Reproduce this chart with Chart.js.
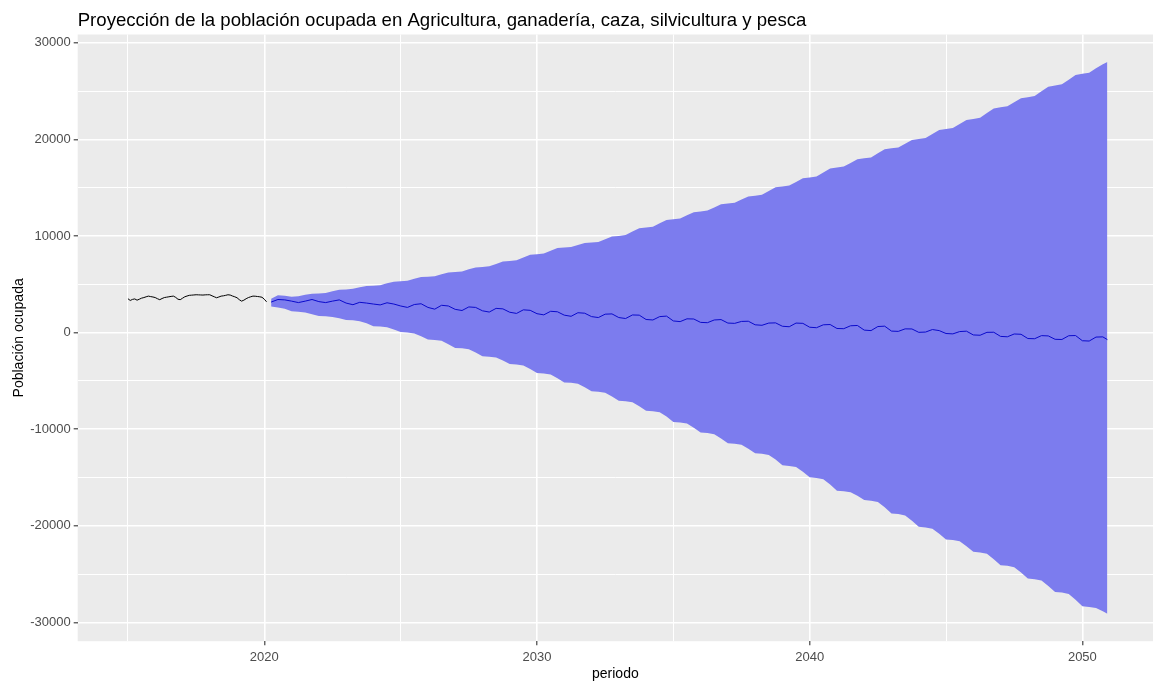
<!DOCTYPE html>
<html><head><meta charset="utf-8">
<script src="https://cdn.jsdelivr.net/npm/chart.js@4/dist/chart.umd.min.js"></script>
<style>html,body{margin:0;padding:0;background:#fff;overflow:hidden}#wrap{width:1153px;height:684px;position:relative}</style>
</head><body><div id="wrap"><canvas id="c" width="1153" height="684"></canvas></div>
<script>
const chartTitle = "Proyección de la población ocupada en Agricultura, ganadería, caza, silvicultura y pesca";
const xAxisTitle = "periodo";
const yAxisTitle = "Población ocupada";

const xMajorTicks = [2020, 2030, 2040, 2050];
const xMinorTicks = [2015, 2025, 2035, 2045];
const yMajorTicks = [-30000, -20000, -10000, 0, 10000, 20000, 30000];
const yMinorTicks = [-25000, -15000, -5000, 5000, 15000, 25000];

// Historical monthly series, Jan 2015 - Feb 2020
const histStart = 2015;
const histPerYear = 12;
const histValues = [
  3500,3320,3430,3480,3350,3450,3560,3620,3700,3770,3720,3680,
  3620,3500,3400,3520,3620,3660,3700,3740,3770,3640,3450,3400,
  3550,3700,3780,3850,3870,3890,3910,3900,3890,3880,3900,3910,
  3910,3800,3700,3600,3680,3770,3800,3850,3910,3880,3780,3700,
  3600,3400,3250,3350,3500,3620,3700,3770,3760,3730,3700,3650,
  3450,3180
];

// Forecast, quarterly from 2020.25, last point Dec 2050
const fcStart = 2020.25;
const fcStep = 0.25;
const fcLastPeriod = 2050.917;
const fcMean = [
  3150,3420,3380,
  3250,3100,3250,3420,
  3200,3100,3250,3380,
  3050,2880,3130,3050,
  2950,2860,3080,2950,
  2750,2600,2900,2980,
  2600,2420,2820,2750,
  2400,2280,2650,2600,
  2250,2120,2500,2450,
  2100,1980,2350,2300,
  1950,1830,2200,2150,
  1800,1680,2050,2000,
  1650,1550,1900,1930,
  1550,1450,1820,1800,
  1350,1300,1650,1700,
  1200,1130,1420,1400,
  1050,1020,1300,1340,
  980,950,1150,1170,
  800,750,980,1000,
  650,600,980,950,
  550,500,800,830,
  420,400,700,730,
  250,200,620,660,
  150,120,380,370,
  20,50,310,200,
  -100,-140,100,140,
  -250,-280,20,30,
  -400,-440,-150,-180,
  -620,-640,-320,-350,
  -700,-720,-330,-310,
  -850,-880,-470,-450,
  -730
];
const fcUpper = [
  3500,3850,3800,
  3700,3750,3900,4020,
  4050,4100,4280,4430,
  4460,4520,4700,4820,
  4850,4900,5100,5260,
  5300,5350,5560,5740,
  5780,5830,6030,6220,
  6260,6310,6540,6740,
  6780,6850,7100,7350,
  7400,7470,7760,8040,
  8100,8170,8460,8740,
  8790,8850,9060,9270,
  9310,9380,9660,9940,
  10000,10090,10450,10800,
  10870,10960,11300,11650,
  11730,11810,12130,12460,
  12530,12620,12950,13280,
  13360,13440,13760,14080,
  14150,14250,14640,15030,
  15120,15210,15590,15960,
  16050,16150,16570,16990,
  17090,17180,17560,17940,
  18030,18130,18550,18970,
  19070,19160,19550,19940,
  20030,20130,20550,20970,
  21070,21170,21590,22010,
  22110,22230,22720,23200,
  23320,23420,23840,24260,
  24360,24480,24970,25450,
  25570,25690,26170,26660,
  26780,26900,27350,27780,
  28000
];
const fcLower = [
  2700,2600,2450,
  2200,2150,2080,1900,
  1700,1680,1620,1480,
  1300,1270,1180,950,
  650,620,560,320,
  50,10,-90,-380,
  -730,-770,-860,-1200,
  -1590,-1630,-1720,-2070,
  -2460,-2500,-2580,-2900,
  -3250,-3300,-3400,-3770,
  -4190,-4240,-4340,-4720,
  -5160,-5200,-5300,-5670,
  -6090,-6140,-6240,-6620,
  -7060,-7110,-7220,-7630,
  -8100,-8150,-8250,-8700,
  -9250,-9300,-9410,-9850,
  -10350,-10400,-10520,-10960,
  -11450,-11500,-11610,-12030,
  -12490,-12550,-12670,-13150,
  -13750,-13810,-13930,-14420,
  -14980,-15050,-15190,-15730,
  -16370,-16420,-16520,-16900,
  -17330,-17400,-17540,-18090,
  -18720,-18790,-18930,-19480,
  -20100,-20170,-20300,-20820,
  -21420,-21480,-21610,-22130,
  -22700,-22770,-22910,-23460,
  -24080,-24150,-24290,-24840,
  -25460,-25530,-25670,-26230,
  -26850,-26920,-27070,-27670,
  -28340,-28400,-28520,-28850,
  -29100
];

const histPeriods = histValues.map((_, i) => histStart + i / histPerYear);
const fcPeriods = fcMean.map((_, i) => i === fcMean.length - 1 ? fcLastPeriod : fcStart + i * fcStep);
const pts = (xs, ys) => ys.map((y, i) => ({x: xs[i], y}));

const panelBg = {
  id: 'panelBg',
  beforeDraw(chart) {
    const {ctx, chartArea: a} = chart;
    ctx.save();
    ctx.fillStyle = '#EBEBEB';
    ctx.fillRect(a.left, a.top, a.right - a.left, a.bottom - a.top);
    ctx.restore();
  }
};
const titlePlugin = {
  id: 'ggTitle',
  afterDraw(chart) {
    const {ctx, chartArea: a} = chart;
    ctx.save();
    ctx.font = '18.6px "Liberation Sans", Arial, sans-serif';
    ctx.fillStyle = '#000000';
    ctx.textBaseline = 'alphabetic';
    ctx.textAlign = 'left';
    ctx.fillText(chartTitle, a.left, 25.5);
    ctx.restore();
  }
};

const tickFont = {family: '"Liberation Sans", Arial, sans-serif', size: 13};
const axisTitleFont = {family: '"Liberation Sans", Arial, sans-serif', size: 14};

new Chart(document.getElementById('c'), {
  type: 'line',
  data: {
    datasets: [
      {label: 'lower', data: pts(fcPeriods, fcLower), borderWidth: 0, pointRadius: 0, fill: false, order: 10, borderColor: 'rgba(0,0,0,0)'},
      {label: 'upper', data: pts(fcPeriods, fcUpper), borderWidth: 0, pointRadius: 0, fill: '-1', backgroundColor: '#7C7CEE', order: 9, borderColor: 'rgba(0,0,0,0)'},
      {label: 'mean', data: pts(fcPeriods, fcMean), borderColor: '#0A0ACC', borderWidth: 1, pointRadius: 0, fill: false, order: 1},
      {label: 'hist', data: pts(histPeriods, histValues), borderColor: '#000000', borderWidth: 1, pointRadius: 0, fill: false, order: 0}
    ]
  },
  options: {
    responsive: false,
    devicePixelRatio: 1,
    animation: false,
    layout: {padding: {top: 34.5, left: 0, right: 0, bottom: 0}},
    plugins: {
      legend: {display: false},
      tooltip: {enabled: false},
      title: {display: false},
      filler: {drawTime: 'beforeDatasetsDraw'}
    },
    elements: {line: {tension: 0}},
    scales: {
      x: {
        type: 'linear',
        min: 2013.157,
        max: 2052.59,
        bounds: 'data',
        afterBuildTicks: s => { s.ticks = xMinorTicks.concat(xMajorTicks).sort((a,b)=>a-b).map(v => ({value: v})); },
        afterFit: s => { s.height = 42.8; },
        ticks: {
          autoSkip: false, maxRotation: 0, padding: 4, color: '#4D4D4D', font: tickFont,
          callback: v => xMajorTicks.includes(v) ? String(v) : ''
        },
        grid: {
          color: '#FFFFFF',
          lineWidth: c => xMajorTicks.includes(c.tick && c.tick.value) ? 1.6 : 1.0,
          drawTicks: true, tickLength: 4, tickWidth: 1.1,
          tickColor: c => xMajorTicks.includes(c.tick && c.tick.value) ? '#333333' : 'rgba(0,0,0,0)'
        },
        border: {display: false},
        title: {display: true, text: xAxisTitle, color: '#000000', font: axisTitleFont, padding: {top: 0, bottom: 1.6}}
      },
      y: {
        type: 'linear',
        min: -31950,
        max: 30850,
        bounds: 'data',
        afterBuildTicks: s => { s.ticks = yMinorTicks.concat(yMajorTicks).sort((a,b)=>a-b).map(v => ({value: v})); },
        afterFit: s => { s.width = 77.7; },
        ticks: {
          autoSkip: false, padding: 3, color: '#4D4D4D', font: tickFont,
          callback: v => yMajorTicks.includes(v) ? String(v) : ''
        },
        grid: {
          color: '#FFFFFF',
          lineWidth: c => yMajorTicks.includes(c.tick && c.tick.value) ? 1.6 : 1.0,
          drawTicks: true, tickLength: 4, tickWidth: 1.1,
          tickColor: c => yMajorTicks.includes(c.tick && c.tick.value) ? '#333333' : 'rgba(0,0,0,0)'
        },
        border: {display: false},
        title: {display: true, text: yAxisTitle, color: '#000000', font: axisTitleFont, padding: {top: 10.6, bottom: 0}}
      }
    }
  },
  plugins: [panelBg, titlePlugin]
});
</script>
</body></html>
